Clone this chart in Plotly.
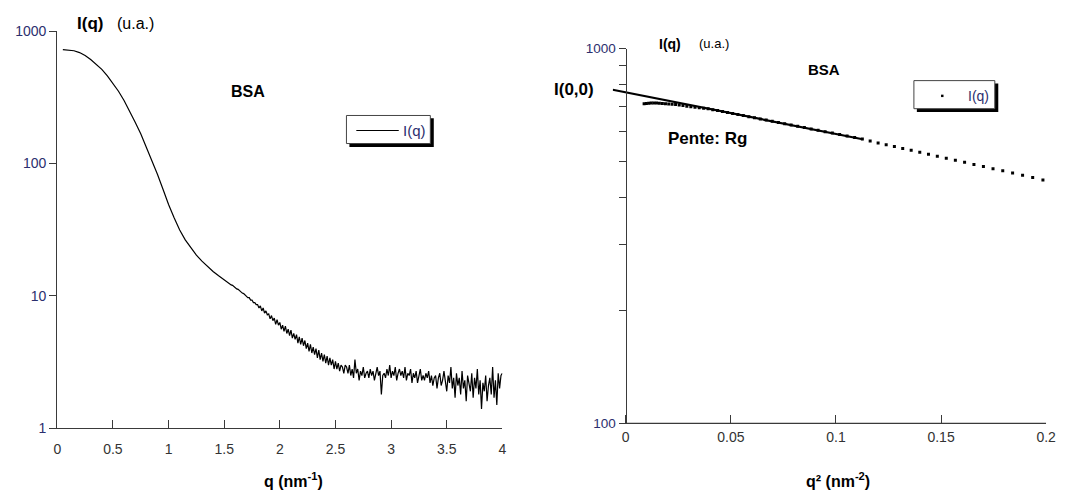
import numpy as np
import plotly.graph_objects as go

W, H = 1067, 503

# ---------------- Left panel data: I(q) vs q ----------------
q_smooth = [0.05, 0.10, 0.15, 0.20, 0.25, 0.30, 0.35, 0.40, 0.45, 0.50,
            0.55, 0.60, 0.65, 0.70, 0.75, 0.80, 0.85, 0.90, 0.95, 1.00,
            1.05, 1.10, 1.15, 1.20, 1.25, 1.30, 1.35, 1.40, 1.45]
I_smooth = [725, 722, 712, 690, 655, 612, 565, 515, 460, 405,
            352, 300, 250, 205, 168, 134, 106, 83, 64, 49,
            39, 31.5, 26.5, 23, 20.3, 18.3, 16.7, 15.3, 14.2]

q_noisy_start, q_noisy_step = 1.5, 0.0125
I_noisy = [
    13.2, 12.9, 12.8, 12.5, 12.4, 12.1, 12.0, 11.7,
    11.6, 11.3, 11.2, 10.9, 10.8, 10.5, 10.4, 10.1,
    10.0, 9.7, 9.7, 9.3, 9.3, 8.9, 8.9, 8.6,
    8.6, 8.1, 8.4, 7.7, 8.1, 7.4, 7.7, 7.2,
    7.3, 6.7, 7.1, 6.5, 6.8, 6.1, 6.6, 6.0,
    6.3, 5.6, 6.0, 5.4, 5.9, 5.2, 5.6, 5.0,
    5.5, 4.8, 5.2, 4.7, 5.1, 4.4, 4.9, 4.3,
    4.8, 4.2, 4.6, 4.0, 4.4, 3.8, 4.3, 3.7,
    4.1, 3.6, 4.0, 3.4, 3.9, 3.3, 3.7, 3.2,
    3.6, 3.1, 3.5, 3.0, 3.4, 3.0, 3.3, 2.8,
    3.2, 2.8, 3.1, 2.7, 3.0, 2.9, 2.6, 3.0,
    2.9, 2.6, 3.0, 2.5, 2.8, 2.4, 3.3, 2.6,
    2.8, 2.3, 2.7, 2.5, 2.9, 2.4, 2.6, 2.7,
    2.4, 2.8, 2.5, 2.7, 2.3, 2.6, 2.9, 2.5,
    2.7, 1.8, 2.5, 2.6, 2.4, 2.8, 2.5, 3.0,
    2.4, 2.7, 2.5, 2.9, 2.3, 2.6, 2.8, 2.5,
    2.7, 2.4, 2.9, 2.3, 2.6, 2.5, 2.8, 2.2,
    2.6, 2.4, 2.7, 2.2, 2.5, 2.8, 2.3, 2.5,
    2.3, 2.6, 2.4, 2.7, 2.2, 2.5, 2.1, 2.4,
    2.5, 2.0, 2.4, 2.6, 2.1, 2.3, 2.7, 2.2,
    1.9, 2.5, 2.2, 2.9, 2.0, 2.4, 1.7, 2.6,
    2.1, 2.4, 1.8, 2.7, 2.0, 2.3, 1.6, 2.5,
    2.2, 1.9, 2.6, 1.7, 2.4, 2.0, 2.8, 1.8,
    2.3, 1.4, 2.2, 1.9, 2.5, 1.6, 2.1, 2.4,
    1.8, 2.9, 1.7, 2.3, 1.5, 2.6, 2.0, 2.5,
    2.6,
]

# ---------------- Right panel data: Guinier plot ----------------
q_right_start, q_right_step = 0.0935, 0.0055
I_right = [713, 714, 715, 716, 716, 716, 715, 714, 713, 712,
           711, 709, 707, 705, 702, 700, 698, 696, 693.5, 690.8,
           687.5, 683.6, 679.9, 675.8, 671.6, 667.3, 662.9, 658.4, 654.0, 649.3,
           644.9, 640.0, 635.4, 630.3, 625.8, 620.6, 615.9, 610.5, 605.6, 600.3,
           595.2, 589.8, 584.7, 579.3, 573.8, 566.6, 560.3, 554.2, 547.9, 541.8,
           535.4, 529.1, 522.8, 516.4, 510.1, 503.7, 497.4, 491.0, 484.6, 478.2,
           471.9, 465.6, 459.2, 452.7, 446.4]

fit_q2 = [-0.0062, 0.1127]
fit_I = [777, 573]

x_ticks_left = [0, 0.5, 1, 1.5, 2, 2.5, 3, 3.5, 4]
x_ticklabels_left = ["0", "0.5", "1", "1.5", "2", "2.5", "3", "3.5", "4"]
y_ticks_left = [1, 10, 100, 1000]
y_ticklabels_left = ["1", "10", "100", "1000"]
x_ticks_right = [0, 0.05, 0.1, 0.15, 0.2]
x_ticklabels_right = ["0", "0.05", "0.1", "0.15", "0.2"]
y_ticks_right = [100, 1000]
y_ticklabels_right = ["100", "1000"]
y_minor_ticks_right = [200, 300, 400, 500, 600, 700, 800, 900]

# ---------------- build ----------------
q_noisy = np.round(q_noisy_start + q_noisy_step * np.arange(len(I_noisy)), 4)
q_left = np.concatenate([q_smooth, q_noisy])
I_left = np.concatenate([I_smooth, I_noisy])

q_right = q_right_start + q_right_step * np.arange(len(I_right))
q2_right = q_right ** 2

def px(x):
    return x / W

def py(y):
    return 1 - y / H

FONT = "Liberation Sans, Arial, sans-serif"
NAVY = "#2c2f6e"
AX = "#3a3a3a"

fig = go.Figure()
fig.add_trace(go.Scatter(x=q_left, y=I_left, mode="lines",
                         line=dict(color="black", width=1.2),
                         xaxis="x", yaxis="y", showlegend=False))
fig.add_trace(go.Scatter(x=q2_right, y=I_right, mode="markers",
                         marker=dict(color="black", size=3, symbol="square"),
                         xaxis="x2", yaxis="y2", showlegend=False))
fig.add_trace(go.Scatter(x=fit_q2, y=fit_I, mode="lines",
                         line=dict(color="black", width=2.2),
                         xaxis="x2", yaxis="y2", showlegend=False))

x2_lo, x2_hi = -0.0062, 0.2
x2_dom = [px(616.8), px(1056)]
y2_pos = x2_dom[0] + (0 - x2_lo) / (x2_hi - x2_lo) * (x2_dom[1] - x2_dom[0])

tick_font = dict(family=FONT, size=14, color="#333333")

fig.update_layout(
    width=W, height=H, autosize=False,
    margin=dict(l=0, r=0, t=0, b=0),
    paper_bgcolor="white", plot_bgcolor="white",
    font=dict(family=FONT, color="black"),
    showlegend=False,
    xaxis=dict(domain=[px(54), px(505)], range=[0, 4], anchor="y",
               showgrid=False, zeroline=False, showline=True,
               linecolor=AX, linewidth=1.3,
               ticks="inside", ticklen=8, tickwidth=1.3, tickcolor=AX,
               tickvals=x_ticks_left, ticktext=x_ticklabels_left,
               tickfont=tick_font, ticklabelstandoff=8),
    yaxis=dict(domain=[py(434), py(24)], type="log", range=[0, 3], anchor="x",
               showgrid=False, zeroline=False, showline=True,
               linecolor=AX, linewidth=1.3,
               ticks="outside", ticklen=7, tickwidth=1.3, tickcolor=AX,
               tickvals=y_ticks_left, ticktext=y_ticklabels_left,
               tickfont=dict(family=FONT, size=14, color=NAVY)),
    xaxis2=dict(domain=x2_dom, range=[x2_lo, x2_hi], anchor="y2",
                showgrid=False, zeroline=False, showline=False,
                ticks="inside", ticklen=8, tickwidth=1.3, tickcolor=AX,
                tickvals=x_ticks_right, ticktext=x_ticklabels_right,
                tickfont=tick_font, ticklabelstandoff=4),
    yaxis2=dict(domain=[py(429), py(42)], type="log", range=[2, 3],
                anchor="free", position=y2_pos,
                showgrid=False, zeroline=False, showline=True,
                linecolor=AX, linewidth=1.3,
                ticks="outside", ticklen=7, tickwidth=1.3, tickcolor=AX,
                tickvals=y_ticks_right, ticktext=y_ticklabels_right,
                minor=dict(tickmode="array", tickvals=y_minor_ticks_right,
                           ticks="outside", ticklen=7, tickwidth=1.3,
                           tickcolor=AX, showgrid=False),
                tickfont=dict(family=FONT, size=13.5, color=NAVY)),
)

shapes = [
    # right x axis line (from q^2 = 0)
    dict(type="line", xref="x2", yref="y2 domain", x0=0, x1=0.2, y0=0, y1=0,
         line=dict(color=AX, width=1.3)),
    # left legend: shadow + box + sample line
    dict(type="rect", xref="paper", yref="paper", x0=px(350), x1=px(435.5),
         y0=py(143.5), y1=py(114), fillcolor="black", line=dict(width=0)),
    dict(type="rect", xref="paper", yref="paper", x0=px(347), x1=px(432),
         y0=py(140), y1=py(111), fillcolor="white", line=dict(color="#444", width=1)),
    dict(type="line", xref="paper", yref="paper", x0=px(357), x1=px(400),
         y0=py(126.5), y1=py(126.5), line=dict(color="black", width=1.2)),
    # right legend: shadow + box + sample dot
    dict(type="rect", xref="paper", yref="paper", x0=px(925), x1=px(1007.5),
         y0=py(107.5), y1=py(78), fillcolor="black", line=dict(width=0)),
    dict(type="rect", xref="paper", yref="paper", x0=px(922), x1=px(1004),
         y0=py(104), y1=py(75), fillcolor="white", line=dict(color="#444", width=1)),
    dict(type="rect", xref="paper", yref="paper", x0=px(949.5), x1=px(952),
         y0=py(92), y1=py(89.5), fillcolor="black", line=dict(width=0)),
]
fig.update_layout(shapes=shapes)

def ann(text, x, y, size, bold=False, color="black", xanchor="left"):
    return dict(text=f"<b>{text}</b>" if bold else text, xref="paper", yref="paper",
                x=px(x), y=py(y), xanchor=xanchor, yanchor="middle",
                showarrow=False, font=dict(family=FONT, size=size, color=color))

annotations = [
    ann("I(q)", 72, 16.5, 17, bold=True),
    ann("(u.a.)", 112, 16.5, 16),
    ann("BSA", 247, 86, 16, bold=True, xanchor="center"),
    ann("I(q)", 402, 127, 15, color=NAVY),
    ann("q (nm<sup>-1</sup>)", 293, 487, 16, bold=True, xanchor="center"),
    ann("I(q)", 662, 37, 14, bold=True),
    ann("(u.a.)", 702, 37, 13),
    ann("BSA", 831, 64, 15, bold=True, xanchor="center"),
    ann("I(0,0)", 555, 84, 17, bold=True),
    ann("Pente: Rg", 671, 135, 17, bold=True),
    ann("I(q)", 975, 91, 14, color=NAVY),
    ann("q² (nm<sup>-2</sup>)", 845, 487, 16, bold=True, xanchor="center"),
]
fig.update_layout(annotations=annotations)

fig.write_html(
    "out.html",
    config={"responsive": False, "displayModeBar": False},
    post_script=("document.documentElement.style.overflow='hidden';"
                 "document.body.style.margin='0';document.body.style.padding='0';"
                 "document.body.style.overflow='hidden';"),
)
